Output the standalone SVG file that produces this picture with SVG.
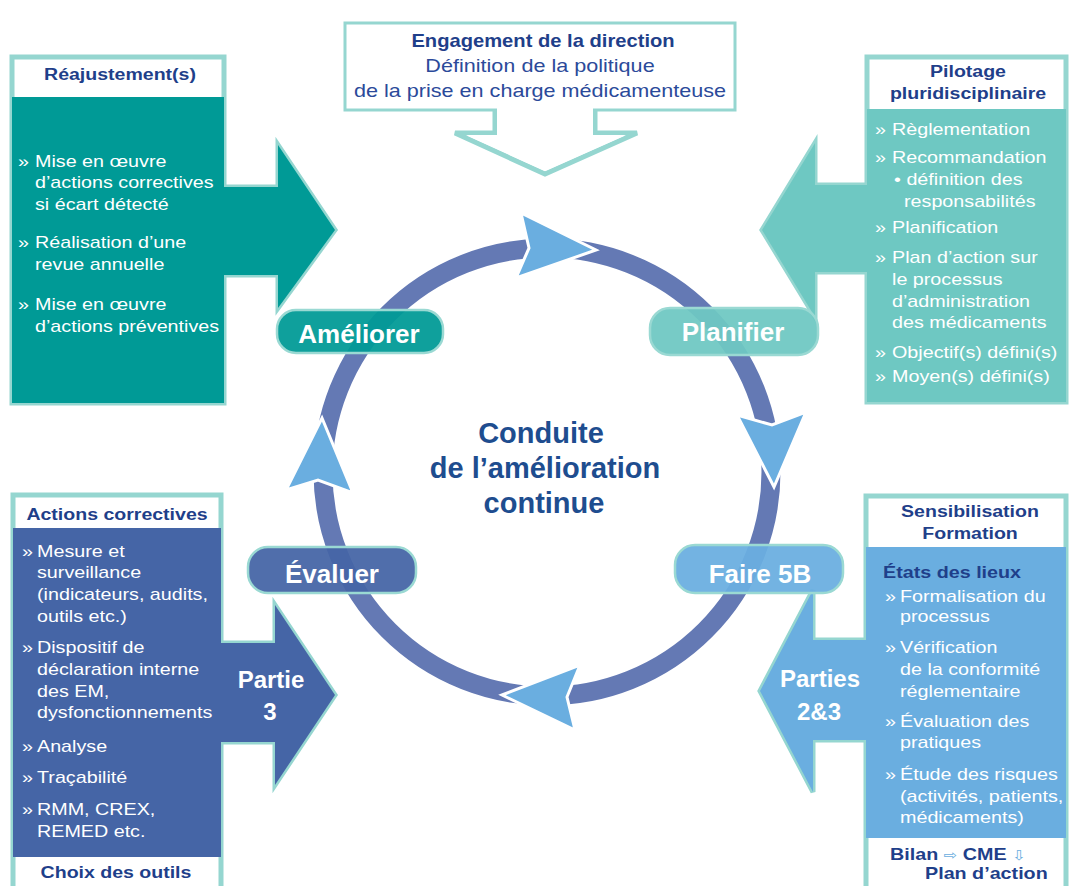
<svg xmlns="http://www.w3.org/2000/svg" width="1070" height="886" viewBox="0 0 1070 886">
<style>
text{font-family:"Liberation Sans",Arial,sans-serif}
.bd{font-size:17px;fill:#ffffff}
.hd{font-size:17px;font-weight:bold;fill:#1f3f8a;text-anchor:middle}
.hl{font-size:17px;font-weight:bold;fill:#1f3f8a}
.out{fill:#ffffff;stroke:#95d6d0;stroke-width:5;stroke-linejoin:miter}
.pill{stroke:#9ad9d3;stroke-width:2.5;fill-opacity:0.94}
.pt{font-size:26px;font-weight:bold;fill:#ffffff;text-anchor:middle}
.pa{font-size:24px;font-weight:bold;fill:#ffffff;text-anchor:middle}
.ah{fill:#6aaee0;stroke:#ffffff;stroke-width:3;stroke-linejoin:miter}
.ct{font-size:29px;font-weight:bold;fill:#1e4d8f;text-anchor:middle}
.tb{font-size:18px;fill:#2b4a9a;text-anchor:middle}
</style>

<!-- Top centre box -->
<g id="engagement">
  <path class="out" d="M495,108 V133 H455 L545,174 L637,133 H595 V108"/>
  <rect class="out" x="345" y="23" width="390" height="87" style="stroke-width:3"/>
  <path d="M497,108 V135 H466 L545,171 L626,135 H593 V108 Z" fill="#ffffff"/>
  <text class="tb" style="font-weight:bold;fill:#1f3f8a" transform="translate(543 47) scale(1.12 1)">Engagement de la direction</text>
  <text class="tb" transform="translate(540 72) scale(1.2 1)">Définition de la politique</text>
  <text class="tb" transform="translate(540 97) scale(1.2 1)">de la prise en charge médicamenteuse</text>
</g>

<!-- Top-left panel -->
<g id="reajustement">
  <path class="out" d="M12,57 H224 V187 H278 V145 L335,230 L278,308 V275 H224 V403 H12 Z"/>
  <path d="M12,97 H224 V187 H278 V145 L335,230 L278,308 V275 H224 V403 H12 Z" fill="#009a96"/>
  <text class="hd" transform="translate(120 80) scale(1.15 1)">Réajustement(s)</text>
  <text class="bd" transform="translate(18 167) scale(1.16 1)">»</text>
  <text class="bd" transform="translate(35 167) scale(1.16 1)">Mise en œuvre</text>
  <text class="bd" transform="translate(35 188) scale(1.16 1)">d’actions correctives</text>
  <text class="bd" transform="translate(35 210) scale(1.16 1)">si écart détecté</text>
  <text class="bd" transform="translate(18 248) scale(1.16 1)">»</text>
  <text class="bd" transform="translate(35 248) scale(1.16 1)">Réalisation d’une</text>
  <text class="bd" transform="translate(35 270) scale(1.16 1)">revue annuelle</text>
  <text class="bd" transform="translate(18 310) scale(1.16 1)">»</text>
  <text class="bd" transform="translate(35 310) scale(1.16 1)">Mise en œuvre</text>
  <text class="bd" transform="translate(35 332) scale(1.16 1)">d’actions préventives</text>
</g>

<!-- Top-right panel -->
<g id="pilotage">
  <path class="out" d="M867,57 H1066 V402 H867 V272 H815 V317 L762,230 L815,143 V185 H867 Z"/>
  <path d="M867,109 H1066 V402 H867 V272 H815 V317 L762,230 L815,143 V185 H867 Z" fill="#6ec8c2"/>
  <text class="hd" transform="translate(968 77) scale(1.15 1)">Pilotage</text>
  <text class="hd" transform="translate(968 99) scale(1.15 1)">pluridisciplinaire</text>
  <text class="bd" transform="translate(875 135) scale(1.16 1)">»</text>
  <text class="bd" transform="translate(892 135) scale(1.16 1)">Règlementation</text>
  <text class="bd" transform="translate(875 163) scale(1.16 1)">»</text>
  <text class="bd" transform="translate(892 163) scale(1.16 1)">Recommandation</text>
  <text class="bd" transform="translate(894 185) scale(1.16 1)">• définition des</text>
  <text class="bd" transform="translate(904 207) scale(1.16 1)">responsabilités</text>
  <text class="bd" transform="translate(875 233) scale(1.16 1)">»</text>
  <text class="bd" transform="translate(892 233) scale(1.16 1)">Planification</text>
  <text class="bd" transform="translate(875 263) scale(1.16 1)">»</text>
  <text class="bd" transform="translate(892 263) scale(1.16 1)">Plan d’action sur</text>
  <text class="bd" transform="translate(892 285) scale(1.16 1)">le processus</text>
  <text class="bd" transform="translate(892 307) scale(1.16 1)">d’administration</text>
  <text class="bd" transform="translate(892 328) scale(1.16 1)">des médicaments</text>
  <text class="bd" transform="translate(875 358) scale(1.16 1)">»</text>
  <text class="bd" transform="translate(892 358) scale(1.16 1)">Objectif(s) défini(s)</text>
  <text class="bd" transform="translate(875 382) scale(1.16 1)">»</text>
  <text class="bd" transform="translate(892 382) scale(1.16 1)">Moyen(s) défini(s)</text>
</g>

<!-- Bottom-left panel -->
<g id="actions-correctives">
  <path class="out" d="M13,495 H221 V643 H275 V605 L335,695 L275,785 V742 H221 V892 H13 Z"/>
  <path d="M13,528 H221 V643 H275 V605 L335,695 L275,785 V742 H221 V857 H13 Z" fill="#4565a6"/>
  <text class="hd" transform="translate(117 520) scale(1.15 1)">Actions correctives</text>
  <text class="bd" transform="translate(22 557) scale(1.16 1)">»</text>
  <text class="bd" transform="translate(37 557) scale(1.16 1)">Mesure et</text>
  <text class="bd" transform="translate(37 578) scale(1.16 1)">surveillance</text>
  <text class="bd" transform="translate(37 600) scale(1.16 1)">(indicateurs, audits,</text>
  <text class="bd" transform="translate(37 622) scale(1.16 1)">outils etc.)</text>
  <text class="bd" transform="translate(22 653) scale(1.16 1)">»</text>
  <text class="bd" transform="translate(37 653) scale(1.16 1)">Dispositif de</text>
  <text class="bd" transform="translate(37 675) scale(1.16 1)">déclaration interne</text>
  <text class="bd" transform="translate(37 697) scale(1.16 1)">des EM,</text>
  <text class="bd" transform="translate(37 718) scale(1.16 1)">dysfonctionnements</text>
  <text class="bd" transform="translate(22 752) scale(1.16 1)">»</text>
  <text class="bd" transform="translate(37 752) scale(1.16 1)">Analyse</text>
  <text class="bd" transform="translate(22 783) scale(1.16 1)">»</text>
  <text class="bd" transform="translate(37 783) scale(1.16 1)">Traçabilité</text>
  <text class="bd" transform="translate(22 815) scale(1.16 1)">»</text>
  <text class="bd" transform="translate(37 815) scale(1.16 1)">RMM, CREX,</text>
  <text class="bd" transform="translate(37 837) scale(1.16 1)">REMED etc.</text>
  <text class="pa" x="271" y="688">Partie</text>
  <text class="pa" x="270" y="720">3</text>
  <text class="hd" transform="translate(116 878) scale(1.15 1)">Choix des outils</text>
</g>

<!-- Bottom-right panel -->
<g id="sensibilisation">
  <path class="out" d="M866,496 H1066 V892 H866 V740 H813 V792 L760,691 L813,590 V640 H866 Z"/>
  <path d="M866,547 H1066 V838 H866 V740 H813 V792 L760,691 L813,590 V640 H866 Z" fill="#6aaee0"/>
  <text class="hd" transform="translate(970 517) scale(1.15 1)">Sensibilisation</text>
  <text class="hd" transform="translate(970 539) scale(1.15 1)">Formation</text>
  <text class="hl" transform="translate(883 578) scale(1.16 1)">États des lieux</text>
  <text class="bd" transform="translate(885 602) scale(1.16 1)">»</text>
  <text class="bd" transform="translate(900 602) scale(1.16 1)">Formalisation du</text>
  <text class="bd" transform="translate(900 622) scale(1.16 1)">processus</text>
  <text class="bd" transform="translate(885 653) scale(1.16 1)">»</text>
  <text class="bd" transform="translate(900 653) scale(1.16 1)">Vérification</text>
  <text class="bd" transform="translate(900 675) scale(1.16 1)">de la conformité</text>
  <text class="bd" transform="translate(900 697) scale(1.16 1)">réglementaire</text>
  <text class="bd" transform="translate(885 727) scale(1.16 1)">»</text>
  <text class="bd" transform="translate(900 727) scale(1.16 1)">Évaluation des</text>
  <text class="bd" transform="translate(900 748) scale(1.16 1)">pratiques</text>
  <text class="bd" transform="translate(885 780) scale(1.16 1)">»</text>
  <text class="bd" transform="translate(900 780) scale(1.16 1)">Étude des risques</text>
  <text class="bd" transform="translate(900 802) scale(1.16 1)">(activités, patients,</text>
  <text class="bd" transform="translate(900 823) scale(1.16 1)">médicaments)</text>
  <text class="pa" x="820" y="687">Parties</text>
  <text class="pa" x="819" y="720">2&amp;3</text>
  <text class="hl" transform="translate(890 860) scale(1.16 1)">Bilan <tspan style="fill:#6aaee0;font-family:'DejaVu Sans',sans-serif;font-size:14px;font-weight:normal">⇨</tspan> CME <tspan style="fill:#6aaee0;font-family:'DejaVu Sans',sans-serif;font-size:14px;font-weight:normal">⇩</tspan></text>
  <text class="hl" transform="translate(925 879) scale(1.16 1)">Plan d’action</text>
</g>

<!-- Cycle ring and arrowheads -->
<g id="connectors">
  <circle cx="547" cy="472" r="224" fill="none" stroke="#6479b4" stroke-width="19"/>
  <polygon class="ah" points="521,213 596,250 516,278 529,248"/>
  <polygon class="ah" points="737,415 772,425 806,412 774,487"/>
  <polygon class="ah" points="502,695 580,665 567,697 575,730"/>
  <polygon class="ah" points="322,418 353,493 318,480 286,490"/>
</g>

<!-- Stage pills -->
<g id="ameliorer">
  <rect class="pill" x="277" y="310" width="166" height="43" rx="19" fill="#009a96"/>
  <text class="pt" x="359" y="343">Améliorer</text>
</g>
<g id="planifier">
  <rect class="pill" x="650" y="308" width="168" height="47" rx="20" fill="#6ec8c2"/>
  <text class="pt" x="733" y="341">Planifier</text>
</g>
<g id="evaluer">
  <rect class="pill" x="248" y="547" width="168" height="46" rx="20" fill="#4565a6"/>
  <text class="pt" x="332" y="583">Évaluer</text>
</g>
<g id="faire">
  <rect class="pill" x="675" y="545" width="168" height="48" rx="20" fill="#6aaee0"/>
  <text class="pt" x="760" y="583">Faire 5B</text>
</g>

<!-- Centre label -->
<g id="centre">
  <text class="ct" x="541" y="443">Conduite</text>
  <text class="ct" x="545" y="478">de l’amélioration</text>
  <text class="ct" x="544" y="513">continue</text>
</g>
</svg>
